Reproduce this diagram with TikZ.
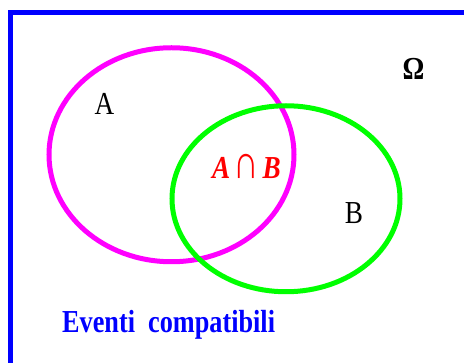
\documentclass[tikz,border=0pt]{standalone}
\usepackage{fontspec}
\setmainfont{Liberation Serif}
\definecolor{frameblue}{RGB}{0,0,255}
\definecolor{setA}{RGB}{255,0,255}
\definecolor{setB}{RGB}{0,255,0}
\definecolor{interred}{RGB}{255,0,0}
\newcommand{\sqz}[1]{\scalebox{0.85}[1]{#1}}
\begin{document}
\begin{tikzpicture}[x=1pt,y=-1pt,
  setline/.style={line width=5pt},
  lbl/.style={inner sep=0pt,anchor=base,font=\fontsize{32}{32}\selectfont}]
\useasboundingbox (0,0) rectangle (464,363);
\clip (0,0) rectangle (464,363);
% frame
\coordinate (fbl) at (10.5,370);
\coordinate (ftl) at (10.5,12.5);
\coordinate (ftr) at (470,12.5);
\draw[frameblue,line width=5pt] (fbl) -- (ftl) -- (ftr);
% sets
\draw[setA,setline] (171.5,154.75) ellipse [x radius=122.5, y radius=107];
\draw[setB,setline] (286,198.75) ellipse [x radius=114, y radius=93];
% labels
\node[lbl] (la) at (104.5,115) {\sqz{A}};
\node[lbl] (lb) at (354,224) {\sqz{B}};
\node[lbl,font=\fontsize{32}{32}\selectfont\bfseries] (omega) at (413.5,80) {\sqz{Ω}};
\node[lbl,text=interred] (inter) at (246.5,179) {\sqz{{\bfseries\itshape A}\hspace{4pt}\scalebox{1.3}[1.5]{∩}\hspace{4pt}{\bfseries\itshape B}}};
\node[lbl,anchor=base west,text=frameblue,font=\fontsize{32}{32}\selectfont\bfseries] (title) at (62,333) {\scalebox{0.82}[1]{Eventi\ \ compatibili}};
\end{tikzpicture}
\end{document}
